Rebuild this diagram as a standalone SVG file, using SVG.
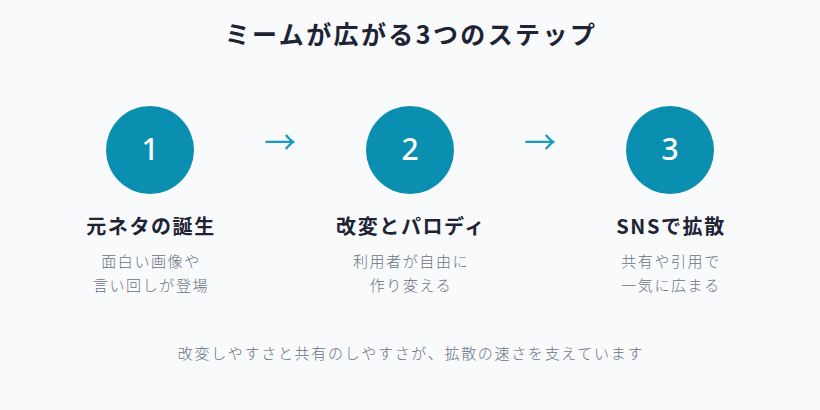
<svg xmlns="http://www.w3.org/2000/svg" width="820" height="410" viewBox="0 0 820 410">
<style>
text{font-family:"Noto Sans CJK JP","Noto Sans",sans-serif;text-anchor:middle}
.title{font-size:25px;font-weight:700;fill:#1e2433;letter-spacing:2.4px}
.circ{fill:#0a8fb1}
.num{font-size:30px;font-weight:500;fill:#ffffff;font-family:"Noto Sans","Noto Sans CJK JP",sans-serif}
.head{font-size:20px;font-weight:700;fill:#1e2433;letter-spacing:1.6px}
.desc{font-size:15px;font-weight:300;fill:#6b7280;letter-spacing:1.6px}
.arrow{font-size:32px;font-weight:400;fill:#1a9bbb}
.foot{font-size:15px;font-weight:300;fill:#6b7280;letter-spacing:1.7px}
</style>
<rect width="820" height="410" fill="#f8fafc"/>
<text class="title" x="411" y="44">ミームが広がる3つのステップ</text>
<g id="step1">
<circle class="circ" cx="150" cy="150" r="44"/>
<text class="num" x="150" y="160">1</text>
<text class="head" x="151" y="234">元ネタの誕生</text>
<text class="desc" x="151" y="267">面白い画像や</text>
<text class="desc" x="151" y="291">言い回しが登場</text>
</g>
<g id="step2">
<circle class="circ" cx="410" cy="150" r="44"/>
<text class="num" x="410" y="160">2</text>
<text class="head" x="411" y="234">改変とパロディ</text>
<text class="desc" x="411" y="267">利用者が自由に</text>
<text class="desc" x="411" y="291">作り変える</text>
</g>
<g id="step3">
<circle class="circ" cx="670" cy="150" r="44"/>
<text class="num" x="670" y="160">3</text>
<text class="head" x="671" y="234">SNSで拡散</text>
<text class="desc" x="671" y="267">共有や引用で</text>
<text class="desc" x="671" y="291">一気に広まる</text>
</g>
<g id="connectors">
<text class="arrow" x="280" y="154">→</text>
<text class="arrow" x="540" y="154">→</text>
</g>
<text class="foot" x="411" y="359">改変しやすさと共有のしやすさが、拡散の速さを支えています</text>
</svg>
